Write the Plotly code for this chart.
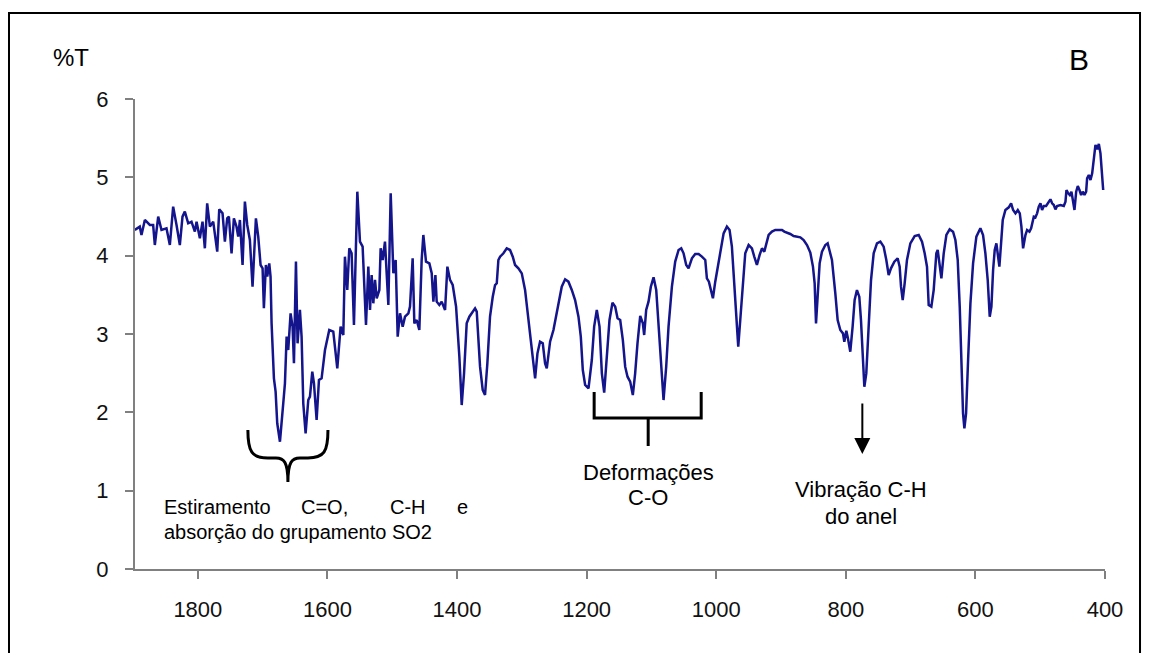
import plotly.graph_objects as go

# IR spectrum (wavenumber cm-1, %T)
wavenumber = [
    1897.3, 1889.6, 1887.0, 1881.8, 1874.1, 1869.0, 1866.4, 1861.2, 1856.1, 1850.9, 1848.4, 1843.2,
    1838.1, 1832.9, 1827.8, 1823.7, 1820.1, 1814.9, 1809.8, 1804.6, 1802.0, 1796.9, 1792.8, 1789.2,
    1785.6, 1781.4, 1776.3, 1770.1, 1767.0, 1761.9, 1758.3, 1754.7, 1752.1, 1748.0, 1744.4, 1740.3,
    1737.7, 1735.1, 1731.0, 1727.4, 1723.8, 1719.7, 1715.6, 1710.4, 1706.8, 1703.2, 1700.1, 1698.1,
    1695.0, 1692.9, 1689.8, 1687.8, 1686.2, 1682.6, 1680.0, 1677.5, 1673.3, 1668.2, 1665.6, 1663.0,
    1660.5, 1656.9, 1653.8, 1651.7, 1648.6, 1646.1, 1642.5, 1639.9, 1637.3, 1633.7, 1629.6, 1627.0,
    1623.4, 1620.8, 1616.7, 1613.1, 1609.0, 1603.8, 1597.2, 1591.0, 1584.8, 1579.7, 1575.5, 1573.0,
    1569.4, 1566.3, 1562.7, 1559.1, 1553.9, 1549.8, 1545.7, 1540.5, 1536.9, 1534.3, 1531.8, 1529.2,
    1526.6, 1524.0, 1519.9, 1517.9, 1514.8, 1511.2, 1508.6, 1506.0, 1502.4, 1498.3, 1494.7, 1491.6,
    1488.0, 1483.9, 1480.3, 1475.1, 1472.6, 1468.5, 1465.9, 1462.3, 1458.2, 1454.6, 1452.0, 1447.9,
    1442.7, 1439.1, 1436.5, 1433.4, 1431.4, 1427.3, 1423.7, 1418.5, 1414.9, 1410.8, 1406.7, 1401.5,
    1396.4, 1392.8, 1389.2, 1385.1, 1381.0, 1377.4, 1374.8, 1372.2, 1369.6, 1367.1, 1364.5, 1360.4,
    1356.8, 1353.2, 1349.1, 1344.9, 1341.3, 1338.7, 1336.2, 1333.6, 1328.4, 1323.3, 1318.2, 1314.0,
    1310.4, 1305.3, 1300.1, 1295.0, 1289.8, 1286.2, 1282.1, 1279.5, 1275.9, 1271.9, 1267.7, 1264.1,
    1261.5, 1259.0, 1256.4, 1251.2, 1247.1, 1243.5, 1238.4, 1233.2, 1228.1, 1222.9, 1217.8, 1212.6,
    1209.0, 1205.9,
    1202.3, 1197.1, 1192.0, 1188.4, 1184.3, 1180.1, 1176.5, 1172.9, 1168.8, 1164.7, 1160.1, 1155.9,
    1152.3, 1148.2, 1144.1, 1140.5, 1136.9, 1132.8, 1128.7, 1125.1, 1121.5, 1117.3, 1113.2, 1111.2,
    1108.1, 1104.5, 1100.9, 1096.7, 1092.6, 1089.0, 1085.4, 1081.3, 1077.2, 1073.6, 1068.4, 1063.3,
    1058.1, 1054.0, 1050.4, 1046.3, 1042.7, 1037.5, 1032.4, 1027.2, 1022.1, 1016.9, 1014.4, 1011.3,
    1008.2, 1005.1, 1001.5, 997.9, 993.8, 988.6, 983.5, 979.4, 975.8, 972.2, 969.1, 966.0,
    962.9, 958.8, 955.2, 950.0, 944.9, 941.3, 937.2, 933.0, 929.4, 925.8, 922.7, 919.1,
    914.0, 908.8, 903.7, 898.5, 894.9, 890.8, 885.7, 880.5, 875.4, 870.2, 865.1, 859.9,
    854.8, 850.7, 848.1, 846.0, 843.5, 840.4, 836.8, 831.6, 828.0,
    821.4, 816.2, 812.6, 808.5, 804.4, 802.3, 799.2, 796.7, 793.1, 789.5, 786.4, 782.8,
    779.2, 776.6, 774.0, 771.4, 768.4, 764.8, 761.1, 757.0, 751.9, 746.7, 741.6, 737.5,
    733.9, 730.3, 725.1, 720.0, 716.9, 714.8, 712.2, 709.2, 705.6, 700.4, 693.7, 687.5,
    682.4, 678.3, 674.7, 672.1, 668.0, 664.4, 660.3, 658.2, 655.1, 652.5, 648.9, 644.8,
    639.7, 634.5, 630.9, 627.3, 624.2, 621.6, 619.1, 617.0, 614.4, 611.3, 607.7, 603.6,
    598.5, 592.3, 588.2, 584.6, 581.0, 577.9, 575.3, 572.7, 570.2, 567.6, 565.5, 563.0,
    560.4, 557.8, 553.7, 548.5, 544.9, 541.8, 538.2, 534.6, 531.5, 529.0, 526.4, 522.8,
    520.2, 516.6, 514.0, 509.9, 507.4, 504.8, 502.2, 499.6, 497.1, 494.5, 490.9, 486.8,
    484.2, 481.6, 479.0, 476.5, 473.9, 468.7, 463.6, 461.0, 459.5, 457.4, 454.3, 451.8,
    449.2, 447.1, 444.5, 442.0, 439.4, 436.8, 434.3, 431.7, 429.1, 427.6, 425.0, 422.4,
    419.8, 417.3, 414.7, 412.1, 409.5, 407.0, 404.4, 402.8,
]

transmittance = [
    4.328, 4.370, 4.264, 4.456, 4.392, 4.392, 4.136, 4.498, 4.328, 4.336, 4.349, 4.136,
    4.626, 4.392, 4.136, 4.498, 4.562, 4.413, 4.434, 4.307, 4.434, 4.222, 4.434, 4.094,
    4.668, 4.370, 4.434, 4.051, 4.592, 4.541, 4.179, 4.477, 4.498, 4.030, 4.477, 4.370,
    4.243, 4.456, 3.881, 4.690, 4.392, 4.200, 3.604, 4.477, 4.243, 3.881, 3.839, 3.328,
    3.881, 3.732, 3.902, 3.732, 3.136, 2.434, 2.264, 1.860, 1.625, 2.115, 2.370, 2.966,
    2.796, 3.264, 3.094, 2.626, 3.924, 2.881, 3.307, 2.966, 2.115, 1.732, 2.157, 2.200,
    2.519, 2.370, 1.902, 2.413, 2.434, 2.796, 3.051, 3.030, 2.562, 3.094, 2.987, 3.987,
    3.562, 4.094, 4.030, 3.115, 4.817, 4.179, 4.115, 3.115, 3.860, 3.307, 3.753, 3.392,
    3.690, 3.455, 3.562, 4.094, 3.945, 4.179, 3.732, 3.370, 4.796, 3.775, 3.945, 2.966,
    3.264, 3.094, 3.221, 3.264, 3.349, 3.966, 3.136, 3.179, 3.051, 3.945, 4.264, 3.924,
    3.902, 3.775, 3.413, 3.753, 3.413, 3.370, 3.413, 3.307, 3.860, 3.690, 3.626, 3.349,
    2.710, 2.093, 2.498, 3.136, 3.221, 3.264, 3.306, 3.327, 3.285, 2.966, 2.583, 2.285,
    2.221, 2.625, 3.221, 3.476, 3.625, 3.647, 3.945, 3.987, 4.030, 4.093, 4.072, 3.987,
    3.881, 3.838, 3.774, 3.562, 3.221, 2.923, 2.625, 2.434, 2.753, 2.902, 2.881, 2.625,
    2.561, 2.732, 2.902, 3.051, 3.221, 3.391, 3.604, 3.698, 3.668, 3.562, 3.434, 3.221,
    2.966, 2.540,
    2.349, 2.306, 2.668, 3.094, 3.307, 3.094, 2.498, 2.251, 2.711, 3.179, 3.400, 3.349,
    3.200, 3.179, 2.923, 2.583, 2.455, 2.392, 2.221, 2.498, 2.881, 3.230, 3.136, 2.987,
    3.307, 3.413, 3.604, 3.724, 3.562, 3.094, 2.583, 2.157, 2.583, 3.094, 3.604, 3.924,
    4.073, 4.094, 4.030, 3.881, 3.839, 3.966, 4.022, 4.022, 3.988, 3.945, 3.711, 3.668,
    3.562, 3.456, 3.668, 3.839, 4.073, 4.285, 4.371, 4.328, 4.115, 3.690, 3.221, 2.838,
    3.179, 3.690, 4.030, 4.136, 4.094, 3.988, 3.881, 4.009, 4.094, 4.051, 4.158, 4.264,
    4.307, 4.328, 4.328, 4.328, 4.307, 4.294, 4.277, 4.251, 4.243, 4.234, 4.200, 4.136,
    4.039, 3.860, 3.647, 3.136, 3.477, 3.902, 4.051, 4.136, 4.158,
    3.945, 3.519, 3.178, 3.051, 3.008, 2.902, 3.042, 2.944, 2.774, 3.093, 3.434, 3.561,
    3.476, 3.178, 2.753, 2.327, 2.497, 3.093, 3.689, 4.030, 4.157, 4.179, 4.115, 3.945,
    3.753, 3.838, 3.923, 3.966, 3.859, 3.604, 3.434, 3.647, 3.945, 4.157, 4.251, 4.264,
    4.179, 4.030, 3.859, 3.370, 3.349, 3.561, 4.030, 4.072, 3.859, 3.710, 4.030, 4.264,
    4.336, 4.306, 4.200, 3.945, 3.349, 2.753, 1.987, 1.795, 1.987, 2.668, 3.391, 3.902,
    4.242, 4.349, 4.264, 4.030, 3.689, 3.221, 3.349, 3.817, 4.072, 4.157, 4.030, 3.859,
    4.157, 4.455, 4.583, 4.617, 4.668, 4.583, 4.540, 4.583, 4.540, 4.370, 4.093, 4.264,
    4.328, 4.306, 4.349, 4.498, 4.489, 4.540, 4.625, 4.668, 4.583, 4.634, 4.634, 4.689,
    4.719, 4.668, 4.647, 4.591, 4.634, 4.647, 4.634, 4.689, 4.838, 4.804, 4.774, 4.817,
    4.711, 4.583, 4.817, 4.889, 4.838, 4.774, 4.817, 4.774, 4.817, 4.987, 5.030, 4.966,
    5.051, 5.243, 5.413, 5.357, 5.426, 5.306, 5.008, 4.838,
]

x_ticks = [1800, 1600, 1400, 1200, 1000, 800, 600, 400]
y_ticks = [0, 1, 2, 3, 4, 5, 6]

FONT = "Liberation Sans, Arial, sans-serif"
AXIS_GREY = "#808080"

fig = go.Figure()
fig.add_trace(go.Scatter(
    x=wavenumber, y=transmittance, mode="lines",
    line=dict(color="#14148c", width=2.5),
    hoverinfo="x+y", showlegend=False,
))

fig.update_layout(
    width=1152, height=653,
    margin=dict(l=135, r=47, t=99, b=84),
    paper_bgcolor="white", plot_bgcolor="white",
    font=dict(family=FONT, color="black"),
    showlegend=False,
    xaxis=dict(
        range=[1897, 400], tickvals=x_ticks, ticktext=[str(v) for v in x_ticks],
        showgrid=False, zeroline=False, showline=True, linecolor=AXIS_GREY, linewidth=2,
        ticks="outside", ticklen=8, tickwidth=1.5, tickcolor=AXIS_GREY,
        tickfont=dict(size=22, family=FONT, color="#111"), ticklabelstandoff=12,
    ),
    yaxis=dict(
        range=[0, 6], tickvals=y_ticks, ticktext=[str(v) for v in y_ticks],
        showgrid=False, zeroline=False, showline=True, linecolor=AXIS_GREY, linewidth=2,
        ticks="outside", ticklen=8, tickwidth=1.5, tickcolor=AXIS_GREY,
        tickfont=dict(size=22, family=FONT, color="#111"), ticklabelstandoff=12,
    ),
)

shapes = [
    # outer frame
    dict(type="rect", xref="paper", yref="paper", x0=-0.1299, x1=1.0361, y0=-0.2, y1=1.183,
         line=dict(color="black", width=2), fillcolor="rgba(0,0,0,0)", layer="above"),
    # curly brace (C=O, C-H, SO2 region)
    dict(type="path", xref="x", yref="y",
         path=("M 1722.8,1.775 C 1722.8,1.494 1716.6,1.417 1691.9,1.417 L 1679.5,1.417 "
               "C 1667.2,1.417 1661.0,1.366 1661.0,1.111 "
               "M 1599.2,1.775 C 1599.2,1.494 1605.4,1.417 1630.1,1.417 L 1642.5,1.417 "
               "C 1654.8,1.417 1661.0,1.366 1661.0,1.111"),
         line=dict(color="black", width=3)),
    # square bracket (C-O deformations)
    dict(type="path", xref="x", yref="y",
         path=("M 1188.4,2.26 L 1188.4,1.928 L 1023.2,1.928 L 1023.2,2.26 "
               "M 1105,1.928 L 1105,1.570"),
         line=dict(color="black", width=3)),
]
fig.update_layout(shapes=shapes)

ann = [
    dict(text="%T", xref="paper", yref="paper", x=-0.066, y=1.089, xanchor="center", yanchor="middle",
         showarrow=False, font=dict(size=24, family=FONT, color="black")),
    dict(text="B", xref="paper", yref="paper", x=0.973, y=1.083, xanchor="center", yanchor="middle",
         showarrow=False, font=dict(size=30, family=FONT, color="black")),
    # Estiramento (justified first line)
    dict(text="Estiramento", x=1855.6, y=0.792, xanchor="left", showarrow=False,
         font=dict(size=20, family=FONT, color="black")),
    dict(text="C=O,", x=1603.9, y=0.792, xanchor="center", showarrow=False,
         font=dict(size=20, family=FONT, color="black")),
    dict(text="C-H", x=1476.4, y=0.792, xanchor="center", showarrow=False,
         font=dict(size=20, family=FONT, color="black")),
    dict(text="e", x=1391.5, y=0.792, xanchor="center", showarrow=False,
         font=dict(size=20, family=FONT, color="black")),
    dict(text="absorção do grupamento SO2", x=1855.6, y=0.472, xanchor="left", showarrow=False,
         font=dict(size=20, family=FONT, color="black")),
    # Deformações C-O
    dict(text="Deformações", x=1105, y=1.238, showarrow=False,
         font=dict(size=22, family=FONT, color="black")),
    dict(text="C-O", x=1105, y=0.919, showarrow=False,
         font=dict(size=22, family=FONT, color="black")),
    # Vibração C-H do anel
    dict(text="Vibração C-H", x=776.1, y=1.009, showarrow=False,
         font=dict(size=22, family=FONT, color="black")),
    dict(text="do anel", x=776.1, y=0.664, showarrow=False,
         font=dict(size=22, family=FONT, color="black")),
    # arrow
    dict(text="", x=774.5, y=1.468, ax=774.5, ay=2.132, axref="x", ayref="y",
         showarrow=True, arrowhead=2, arrowsize=1.6, arrowwidth=2, arrowcolor="black"),
]
for a in ann:
    a.setdefault("xref", "x")
    a.setdefault("yref", "y")
fig.update_layout(annotations=ann)

fig.write_html("out.html")
